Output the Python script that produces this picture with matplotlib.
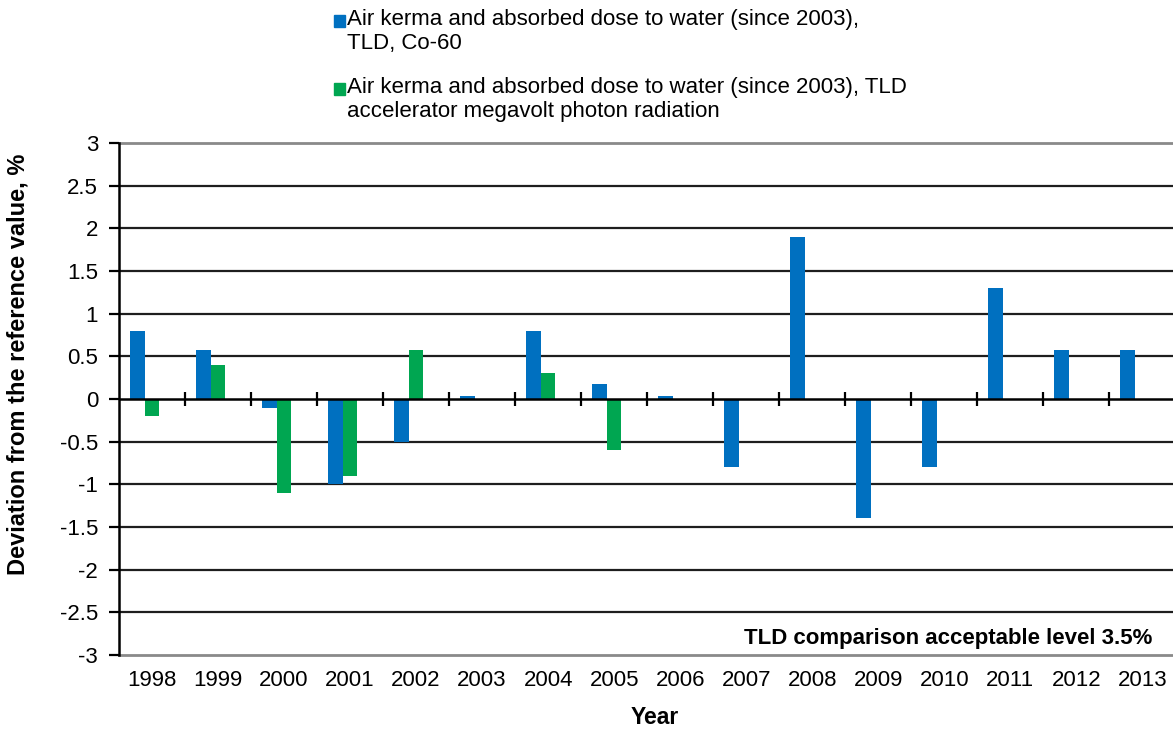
import matplotlib
matplotlib.use("Agg")
import matplotlib.pyplot as plt
from matplotlib.patches import Rectangle
import numpy as np

plt.rcParams['font.family'] = ['Liberation Sans', 'DejaVu Sans']

years = ['1998', '1999', '2000', '2001', '2002', '2003', '2004', '2005',
         '2006', '2007', '2008', '2009', '2010', '2011', '2012', '2013']
co60 = [0.8, 0.58, -0.1, -1.0, -0.5, 0.03, 0.8, 0.17,
        0.03, -0.8, 1.9, -1.4, -0.8, 1.3, 0.58, 0.58]
accel = [-0.2, 0.4, -1.1, -0.9, 0.58, np.nan, 0.3, -0.6,
         np.nan, np.nan, np.nan, np.nan, np.nan, np.nan, np.nan, np.nan]
yticks = [-3, -2.5, -2, -1.5, -1, -0.5, 0, 0.5, 1, 1.5, 2, 2.5, 3]
label_co60 = 'Air kerma and absorbed dose to water (since 2003),\nTLD, Co-60'
label_accel = 'Air kerma and absorbed dose to water (since 2003), TLD\naccelerator megavolt photon radiation'

BLUE = '#0070C0'
GREEN = '#00A651'

W, H = 1173, 731
fig = plt.figure(figsize=(W / 100, H / 100), dpi=100)
ax = fig.add_axes([119 / W, 1 - 655 / H, (1173 - 119) / W + 0.002, (655 - 143) / H])

n = len(years)
x = np.arange(n)
bw = 1 / 4.5
ax.bar(x - bw, co60, width=bw, color=BLUE, zorder=3)
ax.bar(x, accel, width=bw, color=GREEN, zorder=3)

ax.set_xlim(-0.5, n - 0.5)
ax.set_ylim(-3, 3)

# gridlines
for v in yticks:
    if v in (-3, 3):
        ax.axhline(v, color='#8a8a8a', lw=2.0, zorder=1, clip_on=False)
    elif v == 0:
        ax.axhline(v, color='black', lw=1.8, zorder=4)
    else:
        ax.axhline(v, color='#1e1e1e', lw=1.6, zorder=1)

# category tick marks on zero line
bounds = np.arange(n - 1) + 0.5
ax.vlines(bounds, -0.08, 0.08, color='black', lw=1.6, zorder=4)

ax.set_yticks(yticks)
ax.set_yticklabels([f'{v:g}' for v in yticks])
ax.set_xticks(x)
ax.set_xticklabels(years)
ax.tick_params(axis='x', length=0, pad=11, labelsize=16)
ax.tick_params(axis='y', direction='out', length=7, width=1.6, pad=8, labelsize=16)

for s in ['top', 'right', 'bottom']:
    ax.spines[s].set_visible(False)
ax.spines['left'].set_linewidth(1.8)
ax.spines['left'].set_color('black')

ax.text(0.978, 0.021, 'TLD comparison acceptable level 3.5%', transform=ax.transAxes,
        ha='right', va='baseline', fontsize=16, fontweight='bold')

fig.text(655 / W, 1 - 724 / H, 'Year', ha='center', va='baseline', fontsize=16.5, fontweight='bold')
fig.text(18 / W, 1 - 364 / H, 'Deviation from the reference value, %', ha='center', va='center',
         rotation=90, fontsize=17, fontweight='bold')

# legend (manual)
fig.patches.append(Rectangle((334 / W, 1 - 27 / H), 11 / W, 12 / H, transform=fig.transFigure,
                             color=BLUE))
fig.text(347 / W, 1 - 9 / H, label_co60, ha='left', va='top', fontsize=16, linespacing=1.17)
fig.patches.append(Rectangle((334 / W, 1 - 95 / H), 11 / W, 12 / H, transform=fig.transFigure,
                             color=GREEN))
fig.text(347 / W, 1 - 77 / H, label_accel, ha='left', va='top', fontsize=16, linespacing=1.17)

fig.savefig('out.png', dpi=100)
